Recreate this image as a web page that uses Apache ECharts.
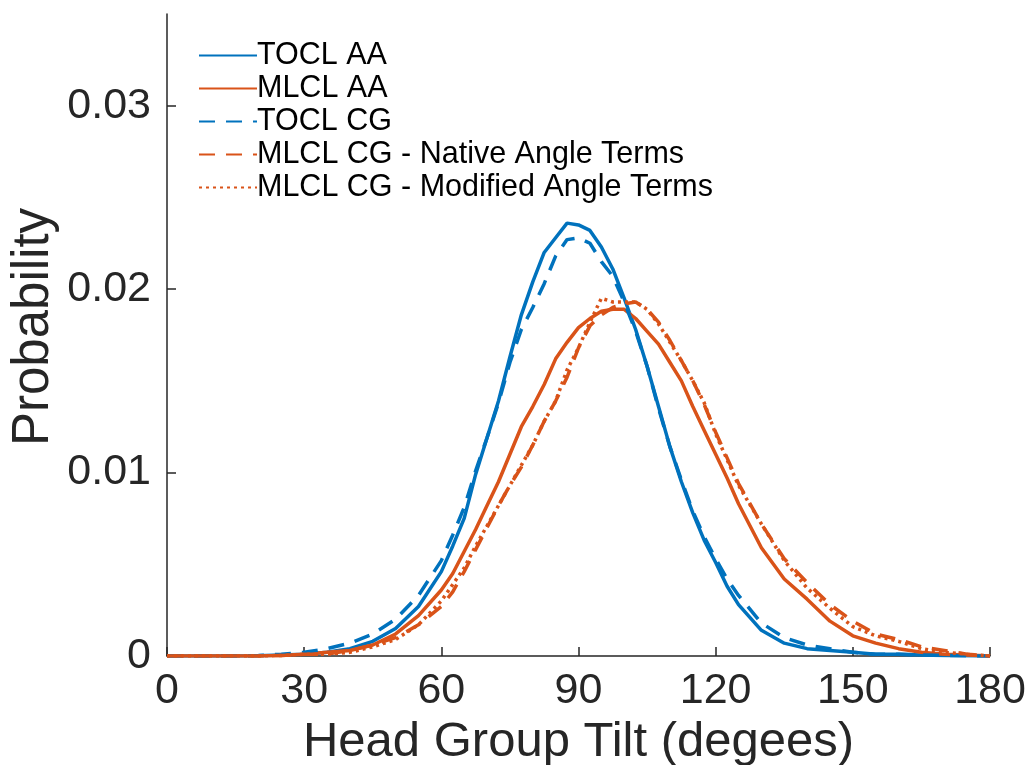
<!DOCTYPE html>
<html>
<head>
<meta charset="utf-8">
<script src="https://cdn.jsdelivr.net/npm/echarts@6/dist/echarts.min.js"></script>
<style>
html,body{margin:0;padding:0;background:#fff;}
#chart{width:1031px;height:765px;}
</style>
</head>
<body>
<div id="chart"></div>
<script>
const degrees = [0,5,10,15,20,25,30,35,40,45,50,55,60,62.5,65,67.5,70,72.5,75,77.5,80,82.5,85,87.5,90,92.5,95,97.5,100,102.5,105,107.5,110,112.5,115,117.5,120,122.5,125,130,135,140,145,150,155,160,165,170,175,180];

const toclAA = [0,0,0,0,0.00002,0.00005,0.0001,0.0002,0.0004,0.0008,0.0015,0.0027,0.0046,0.0060,0.0075,0.0099,0.0119,0.0139,0.0163,0.0186,0.0204,0.0220,0.0228,0.0236,0.0235,0.0232,0.0223,0.0211,0.0195,0.0178,0.0158,0.0136,0.0114,0.0095,0.0078,0.0063,0.0051,0.0038,0.0028,0.0014,0.0007,0.0004,0.0003,0.0002,0.0001,0.0001,0.00005,0.00003,0.00001,0];

const mlclAA = [0,0,0,0,0,0.00003,0.0001,0.0002,0.0003,0.0006,0.0012,0.0022,0.0036,0.0045,0.0057,0.0069,0.0082,0.0095,0.0110,0.0125,0.0136,0.0148,0.0162,0.0171,0.0179,0.0184,0.0188,0.0189,0.0189,0.0184,0.0177,0.0170,0.0160,0.0150,0.0136,0.0123,0.0110,0.0097,0.0083,0.0059,0.0042,0.0031,0.0019,0.0011,0.0007,0.0004,0.0002,0.0001,0.00005,0];

const toclCG = [0,0,0,0,0.00003,0.0001,0.0002,0.0004,0.0007,0.0012,0.0020,0.0033,0.0052,0.0066,0.0081,0.0101,0.0119,0.0138,0.0160,0.0178,0.0190,0.0203,0.0218,0.0227,0.0228,0.0225,0.0215,0.0207,0.0193,0.0177,0.0158,0.0135,0.0114,0.0096,0.0079,0.0065,0.0053,0.0042,0.0033,0.0018,0.0010,0.0006,0.0004,0.0002,0.0001,0.0001,0.00005,0.00003,0.00001,0];

const mlclCGNative = [0,0,0,0,0,0.00003,0.0001,0.0001,0.0003,0.0006,0.0010,0.0017,0.0027,0.0035,0.0046,0.0058,0.0070,0.0082,0.0093,0.0103,0.0115,0.0128,0.0139,0.0152,0.0168,0.0180,0.0186,0.0190,0.0192,0.0193,0.0189,0.0182,0.0172,0.0161,0.0150,0.0137,0.0122,0.0108,0.0094,0.0072,0.0053,0.0040,0.0028,0.0019,0.0012,0.0009,0.0005,0.0003,0.0001,0];

const mlclCGModified = [0,0,0,0,0,0.00003,0.0001,0.0001,0.0002,0.0005,0.0009,0.0017,0.0030,0.0039,0.0048,0.0060,0.0071,0.0082,0.0093,0.0104,0.0115,0.0128,0.0139,0.0156,0.0168,0.0182,0.0195,0.0193,0.0193,0.0193,0.0189,0.0181,0.0171,0.0161,0.0150,0.0138,0.0121,0.0107,0.0093,0.0072,0.0052,0.0037,0.0026,0.0016,0.0011,0.0008,0.0004,0.0002,0.0001,0];

const seriesNames = ['TOCL AA','MLCL AA','TOCL CG','MLCL CG - Native Angle Terms','MLCL CG - Modified Angle Terms'];
const xTicks = [0,30,60,90,120,150,180];
const yTicks = [0,0.01,0.02,0.03];

const BLUE = '#0072BD', ORANGE = '#D95319', INK = '#262626';
const FONT = 'Liberation Sans';

function pairs(vals){ return degrees.map((d,i)=>[d, vals[i]]); }
function mk(name, vals, color, type){
  return {
    name, type:'line', data:pairs(vals), symbol:'none', showSymbol:false,
    lineStyle:{color, width:3.5, type, cap:'butt'},
    itemStyle:{color},
    animation:false
  };
}

const chart = echarts.init(document.getElementById('chart'), null, {renderer:'canvas'});
chart.setOption({
  animation:false,
  backgroundColor:'#fff',
  grid:{left:167, right:41, top:14, bottom:109, containLabel:false, outerBoundsMode:'none'},
  legend:{
    orient:'vertical', left:193, top:35,
    itemWidth:58, itemHeight:14, itemGap:2,
    data:seriesNames,
    itemStyle:{opacity:0},
    textStyle:{fontFamily:FONT, fontSize:30.5, color:'#000', lineHeight:30.7, padding:[0,0,0,-5]}
  },
  xAxis:{
    type:'value', min:0, max:180, interval:30,
    name:'Head Group Tilt (degees)', nameLocation:'middle', nameGap:59,
    nameTextStyle:{fontFamily:FONT, fontSize:49, color:INK},
    axisLine:{show:true, onZero:false, lineStyle:{color:INK, width:1.5}},
    axisTick:{show:true, inside:true, length:9, customValues:xTicks, lineStyle:{color:INK, width:1.5}},
    axisLabel:{fontFamily:FONT, fontSize:43, color:INK, margin:14, customValues:xTicks},
    splitLine:{show:false}
  },
  yAxis:{
    type:'value', min:0, max:0.035,
    name:'Probability', nameLocation:'middle', nameGap:108, nameRotate:90,
    nameMoveOverlap:false,
    nameTextStyle:{fontFamily:FONT, fontSize:51, color:INK, padding:[0,0,0,16]},
    axisLine:{show:true, lineStyle:{color:INK, width:1.5}},
    axisTick:{show:true, inside:true, length:9, customValues:yTicks, lineStyle:{color:INK, width:1.5}},
    axisLabel:{fontFamily:FONT, fontSize:43, color:INK, margin:16, customValues:yTicks,
      formatter:v=> v===0 ? '0' : v.toFixed(2)},
    splitLine:{show:false}
  },
  series:[
    mk(seriesNames[0], toclAA, BLUE, 'solid'),
    mk(seriesNames[1], mlclAA, ORANGE, 'solid'),
    mk(seriesNames[2], toclCG, BLUE, [16,11]),
    mk(seriesNames[3], mlclCGNative, ORANGE, [16,11]),
    mk(seriesNames[4], mlclCGModified, ORANGE, [3,4])
  ]
});
</script>
</body>
</html>
